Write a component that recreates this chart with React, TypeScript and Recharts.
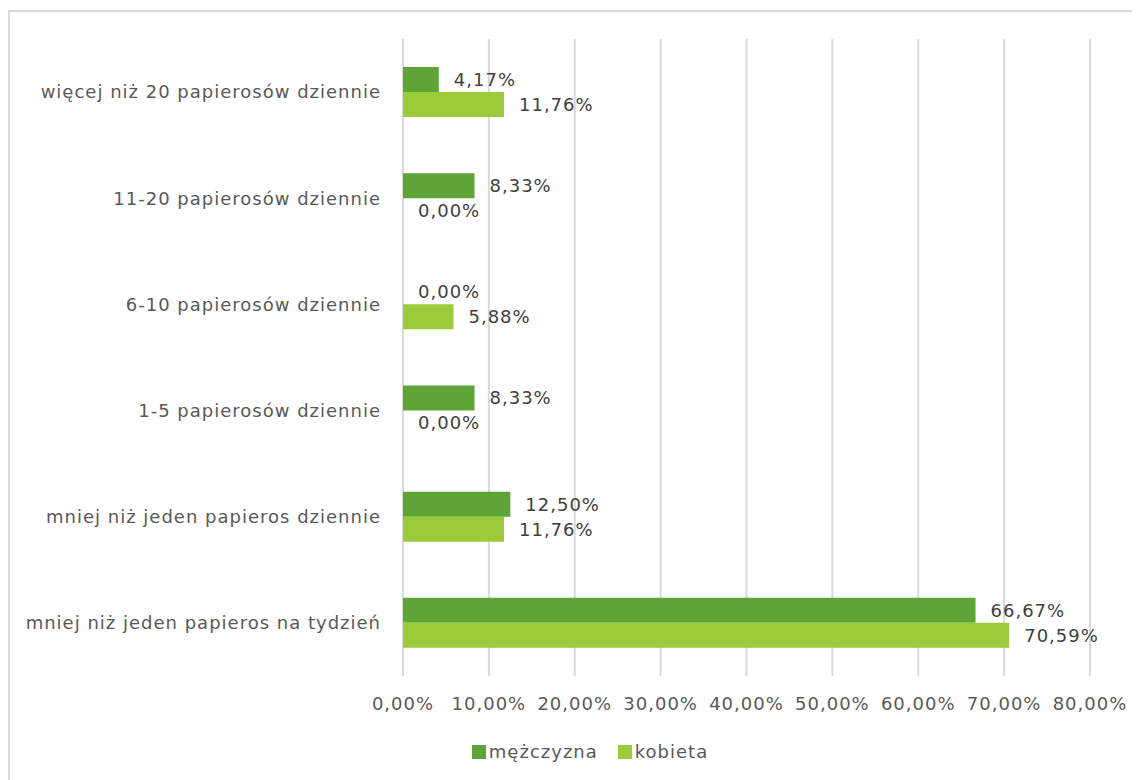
import { BarChart, Bar, XAxis, YAxis, CartesianGrid, Legend, LabelList } from "recharts";

const categories = [
  "więcej niż 20 papierosów dziennie",
  "11-20 papierosów dziennie",
  "6-10 papierosów dziennie",
  "1-5 papierosów dziennie",
  "mniej niż jeden papieros dziennie",
  "mniej niż jeden papieros na tydzień",
];
const mezczyzna = [4.17, 8.33, 0, 8.33, 12.5, 66.67];
const kobieta = [11.76, 0, 5.88, 0, 11.76, 70.59];
const xTicks = [0, 10, 20, 30, 40, 50, 60, 70, 80];

const seriesNames = { mezczyzna: "mężczyzna", kobieta: "kobieta" };
const DARK = "#5fa437";
const LIGHT = "#9bcb3a";
const FONT = "'DejaVu Sans', sans-serif";
const SPACING = 1;

const data = categories.map((name, i) => ({
  name,
  mezczyzna: mezczyzna[i],
  kobieta: kobieta[i],
}));

const pct = (v: number) => v.toFixed(2).replace(".", ",") + "%";

// custom label so zero-width bars still get their "0,00%"
const valueLabel = (props: any) => {
  const { x, y, width, height, value } = props;
  const w = Number(value) === 0 ? 0 : Number(width || 0);
  return (
    <text
      x={Number(x) + w + 15}
      y={Number(y) + Number(height) / 2}
      dy="0.36em"
      fill="#404040"
      fontSize={18}
      fontFamily={FONT}
      style={{ letterSpacing: SPACING }}
    >
      {pct(Number(value))}
    </text>
  );
};

function LegendBox() {
  const items = [
    { label: seriesNames.mezczyzna, color: DARK },
    { label: seriesNames.kobieta, color: LIGHT },
  ];
  return (
    <div style={{ display: "flex", justifyContent: "center", alignItems: "center", fontFamily: FONT, fontSize: 18, letterSpacing: SPACING, color: "#595959", paddingLeft: 102, paddingTop: 3 }}>
      {items.map((it) => (
        <div key={it.label} style={{ display: "flex", alignItems: "center", marginRight: 20 }}>
          <span style={{ width: 14, height: 14, background: it.color, display: "inline-block", marginRight: 3 }} />
          <span>{it.label}</span>
        </div>
      ))}
    </div>
  );
}

export default function App() {
  const tickStyle = { fill: "#595959", fontSize: 18, fontFamily: FONT, style: { letterSpacing: SPACING } };
  return (
    <div style={{ width: 1132, height: 772, overflow: "hidden", position: "relative" }}>
      <div style={{ position: "absolute", left: 0, top: 2, width: 1200, height: 800, border: "2px solid #d9d9d9", boxSizing: "border-box" }} />
      <div style={{ position: "absolute", left: 0, top: 0 }}>
        <BarChart
          width={1132}
          height={772}
          data={data}
          layout="vertical"
          margin={{ top: 31, right: 50, left: 0, bottom: 14 }}
          barGap={0}
        >
          <CartesianGrid horizontal={false} stroke="#d9d9d9" strokeWidth={2} />
          <XAxis
            type="number"
            domain={[0, 80]}
            ticks={xTicks}
            tickFormatter={pct}
            axisLine={false}
            tickLine={false}
            tickSize={0}
            tickMargin={21}
            height={62}
            tick={tickStyle}
          />
          <YAxis
            type="category"
            dataKey="name"
            width={395}
            axisLine={false}
            tickLine={false}
            tickSize={0}
            tickMargin={22}
            tick={tickStyle}
          />
          <Legend verticalAlign="bottom" height={28} content={() => <LegendBox />} />
          <Bar dataKey="mezczyzna" name={seriesNames.mezczyzna} fill={DARK} barSize={25} minPointSize={0.01} isAnimationActive={false}>
            <LabelList dataKey="mezczyzna" content={valueLabel} />
          </Bar>
          <Bar dataKey="kobieta" name={seriesNames.kobieta} fill={LIGHT} barSize={25} minPointSize={0.01} isAnimationActive={false}>
            <LabelList dataKey="kobieta" content={valueLabel} />
          </Bar>
        </BarChart>
      </div>
    </div>
  );
}
